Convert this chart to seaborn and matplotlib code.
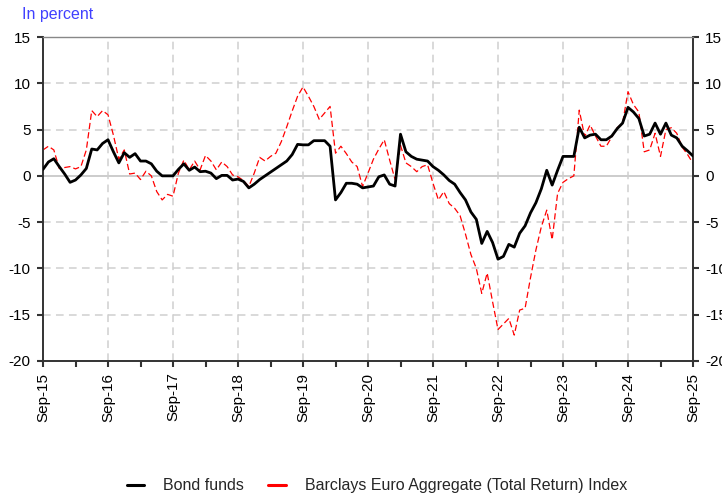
import numpy as np
import pandas as pd
import seaborn as sns
import matplotlib.pyplot as plt
from matplotlib.lines import Line2D

# Годовые изменения, в процентах (помесячно, Sep-15 ... Sep-25)
bond_funds = [
    0.7, 1.5, 1.85, 1.0, 0.2, -0.7, -0.45, 0.1, 0.8, 2.9, 2.8, 3.5,
    3.9, 2.6, 1.4, 2.5, 2.0, 2.4, 1.6, 1.6, 1.3, 0.5, 0.0, 0.0,
    0.0, 0.7, 1.3, 0.6, 0.95, 0.45, 0.5, 0.3, -0.3, 0.05, 0.05, -0.45,
    -0.35, -0.6, -1.3, -0.9, -0.4, 0.0, 0.4, 0.8, 1.2, 1.6, 2.3, 3.4,
    3.35, 3.35, 3.8, 3.8, 3.8, 3.2, -2.6, -1.8, -0.8, -0.8, -0.9, -1.3,
    -1.2, -1.1, -0.1, 0.1, -0.9, -1.1, 4.5, 2.6, 2.1, 1.8, 1.7, 1.6,
    1.0, 0.6, 0.1, -0.5, -0.9, -1.8, -2.6, -3.9, -4.7, -7.3, -6.0, -7.2,
    -9.0, -8.7, -7.4, -7.7, -6.2, -5.4, -4.0, -2.9, -1.4, 0.6, -1.0, 0.6,
    2.1, 2.1, 2.1, 5.25, 4.1, 4.4, 4.5, 3.9, 3.9, 4.3, 5.1, 5.7,
    7.4, 6.9, 6.2, 4.3, 4.5, 5.7, 4.5, 5.7, 4.4, 4.1, 3.2, 2.7,
    2.15,
]
barclays = [
    2.8, 3.2, 2.8, 0.8, 0.9, 1.0, 0.75, 1.0, 2.8, 7.05, 6.4, 7.05,
    6.6, 4.4, 1.8, 2.8, 0.2, 0.3, -0.4, 0.5, 0.0, -1.7, -2.6, -2.0,
    -2.2, 0.3, 1.7, 0.65, 1.6, 0.65, 2.2, 1.6, 0.65, 1.5, 1.0, 0.1,
    -0.1, -0.5, -1.15, 0.3, 2.0, 1.6, 2.1, 2.45, 3.7, 5.3, 7.0, 8.6,
    9.6, 8.6, 7.5, 6.1, 6.8, 7.5, 2.45, 3.2, 2.4, 1.5, 1.0, -1.15,
    0.3, 1.8, 2.9, 3.9, 1.7, -0.4, 3.3, 1.4, 1.0, 0.45, 1.0, 1.2,
    -0.8, -2.6, -1.7, -3.0, -3.5, -4.3, -6.3, -8.5, -10.0, -12.7, -10.5, -13.6,
    -16.6, -16.0, -15.4, -17.2, -14.5, -14.3, -11.0, -8.0, -5.5, -3.7, -6.9, -1.9,
    -0.7, -0.3, 0.0, 7.1, 4.25, 5.5, 4.3, 3.2, 3.2, 4.2, 5.2, 5.7,
    9.1, 7.7, 6.9, 2.6, 2.8, 4.6, 2.1, 5.0, 5.2, 4.6, 3.1, 2.3,
    1.35,
]
x_labels = ['Sep-15', 'Sep-16', 'Sep-17', 'Sep-18', 'Sep-19', 'Sep-20',
            'Sep-21', 'Sep-22', 'Sep-23', 'Sep-24', 'Sep-25']
y_ticks = [-20, -15, -10, -5, 0, 5, 10, 15]
series_names = ['Bond funds', 'Barclays Euro Aggregate (Total Return) Index']

df = pd.DataFrame({'month': np.arange(len(bond_funds)),
                   series_names[0]: bond_funds,
                   series_names[1]: barclays})

sns.set_theme(style='ticks')
plt.rcParams['font.family'] = ['Liberation Sans', 'DejaVu Sans']
plt.rcParams['font.size'] = 11.5

fig = plt.figure(figsize=(7.22, 4.95), dpi=100)
ax = fig.add_axes([43 / 722, 1 - 361 / 495, 650 / 722, 324 / 495])

# сетка
grid_kw = dict(color='#cfcfcf', lw=1.1, ls=(0, (5, 3.5)), zorder=0)
for v in y_ticks:
    if v == 0:
        ax.axhline(0, color='#c4c4c4', lw=1.2, zorder=0)
    elif -20 < v < 15:
        ax.axhline(v, **grid_kw)
for m in range(12, 120, 12):
    ax.axvline(m, **grid_kw)

sns.lineplot(data=df, x='month', y=series_names[1], ax=ax, color='red',
             lw=0.9, linestyle=(0, (5, 2.5)), zorder=2)
sns.lineplot(data=df, x='month', y=series_names[0], ax=ax, color='black',
             lw=2.0, zorder=3)

ax.set_xlim(0, 120)
ax.set_ylim(-20, 15)
ax.set_xlabel('')
ax.set_ylabel('')
ax.set_yticks(y_ticks)
ax.set_yticklabels([str(v) for v in y_ticks])
ax.set_xticks(range(0, 121, 12))
ax.set_xticklabels(x_labels, rotation=90)
ax.set_xticks(range(6, 120, 12), minor=True)

ax.tick_params(axis='y', which='both', left=True, right=True,
               labelleft=True, labelright=True, length=4.3, width=1.5,
               color='#333333', labelcolor='black', pad=4.5)
ax.tick_params(axis='x', which='both', bottom=True, length=4.3, width=1.5,
               color='#333333', labelcolor='black', pad=4)

for side in ['left', 'right', 'bottom']:
    ax.spines[side].set_color('#333333')
    ax.spines[side].set_linewidth(1.4)
ax.spines['top'].set_color('#888888')
ax.spines['top'].set_linewidth(1.0)

fig.text(22 / 722, 1 - 14 / 495, 'In percent', color='#4040ff',
         ha='left', va='center', fontsize=11.5)

handles = [Line2D([], [], color='black', lw=2.2),
           Line2D([], [], color='red', lw=2.2)]
fig.legend(handles, series_names, loc='lower center',
           bbox_to_anchor=(377 / 722, -0.026),
           ncol=2, frameon=False, handlelength=1.1, handletextpad=1.2,
           columnspacing=1.5, fontsize=11.5)

fig.savefig('out.png', dpi=100)
